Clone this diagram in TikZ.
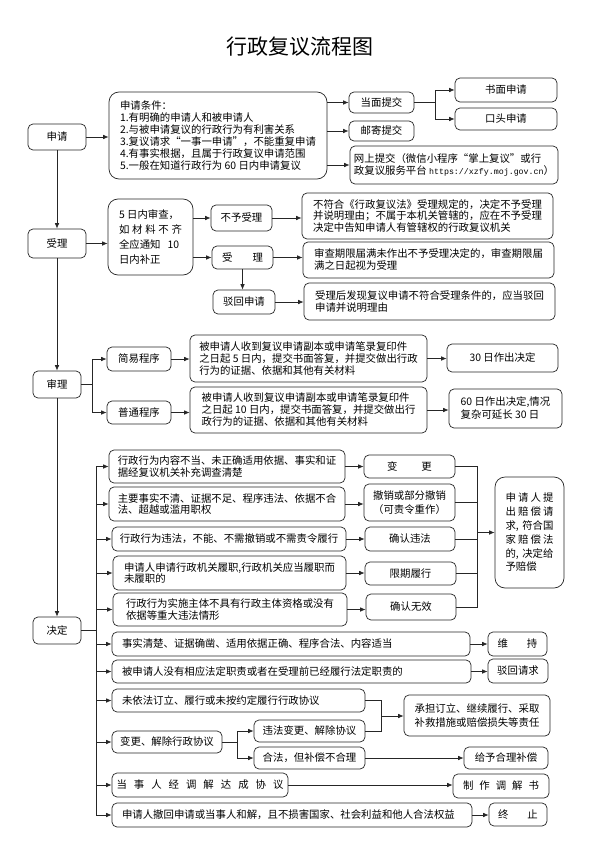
\documentclass[tikz,border=0pt]{standalone}
\usepackage{fontspec}
\setmainfont{Noto Sans CJK SC}
\setmonofont{Liberation Mono}
\usetikzlibrary{arrows.meta}
\newcommand\bx[7]{%
  \pgfmathsetmacro\bxw{#4-#2}%
  \pgfmathsetmacro\bxh{#5-#3}%
  \pgfmathsetmacro\bxcx{(#2+#4)/2}%
  \pgfmathsetmacro\bxcy{(#3+#5)/2}%
  \node[box,minimum width=\bxw pt,minimum height=\bxh pt,#6] (#1) at (\bxcx,\bxcy) {#7};}
\tikzset{
  box/.style={draw=black!85, line width=0.7pt, rounded corners=5pt, inner xsep=0pt, inner ysep=1pt,
    align=center, font=\fontsize{10.4}{12}\selectfont, text=black},
  big/.style={rounded corners=10pt},
  ln/.style={draw=black!85, line width=0.7pt},
  arr/.style={ln, -{Latex[length=5.5pt,width=4.5pt]}},
}
\begin{document}
\begin{tikzpicture}[x=1pt,y=-1pt]
\useasboundingbox (0,0) rectangle (597,845);
\fill[white] (0,0) rectangle (597,845);
\node[font=\fontsize{21}{21}\selectfont] (title) at (300,47) {行政复议流程图};
% ---- 申请
\bx{shen}{28}{124}{86}{150}{}{申请}
\bx{cond}{109}{92}{327}{179}{big,align=left}{申请条件：\\1.有明确的申请人和被申请人\\2.与被申请复议的行政行为有利害关系\\3.复议请求“一事一申请”，不能重复申请\\4.有事实根据，且属于行政复议申请范围\\5.一般在知道行政行为 60 日内申请复议}
\bx{dangmian}{349}{92}{414}{113}{}{当面提交}
\bx{youji}{349}{121}{414}{141}{}{邮寄提交}
\bx{wangshang}{350}{146}{558}{184}{align=left}{网上提交（微信小程序“掌上复议”或行\\政复议服务平台 {\ttfamily\fontsize{8.3}{12}\selectfont https://xzfy.moj.gov.cn}）}
\bx{shumian}{455}{78}{557}{102}{}{书面申请}
\bx{koutou}{455}{108}{557}{130}{}{口头申请}
% ---- 受理
\bx{shouli}{28}{229}{86}{258}{}{受理}
\bx{check5}{108}{199}{193}{275}{big,align=left,font=\fontsize{10.4}{15.3}\selectfont}{5 日内审查，\\\makebox[63pt][l]{如\hfill 材\hfill 料\hfill 不\hfill 齐}\\全应通知\hspace{7pt}10\\日内补正}
\bx{buyu}{211}{205}{272}{231}{}{不予受理}
\bx{shouli2}{212}{246}{273}{269}{}{受\hspace{20pt}理}
\bx{bohui}{213}{290}{275}{314}{}{驳回申请}
\bx{r1}{302}{193}{553}{239}{align=left,font=\fontsize{10.4}{11.6}\selectfont}{不符合《行政复议法》受理规定的，决定不予受理\\并说明理由；不属于本机关管辖的，应在不予受理\\决定中告知申请人有管辖权的行政复议机关}
\bx{r2}{303}{242}{554}{278}{align=left}{审查期限届满未作出不予受理决定的，审查期限届\\满之日起视为受理}
\bx{r3}{304}{283}{555}{320}{align=left}{受理后发现复议申请不符合受理条件的，应当驳回\\申请并说明理由}
% ---- 审理
\bx{shenli}{33}{371}{81}{398}{}{审理}
\bx{jianyi}{107}{347}{171}{371}{}{简易程序}
\bx{putong}{107}{401}{171}{424}{}{普通程序}
\bx{p1}{190}{335}{427}{382}{align=left}{被申请人收到复议申请副本或申请笔录复印件\\之日起 5 日内，提交书面答复，并提交做出行政\\行为的证据、依据和其他有关材料}
\bx{p2}{190}{387}{427}{433}{align=left}{被申请人收到复议申请副本或申请笔录复印件\\之日起 10 日内，提交书面答复，并提交做出行\\政行为的证据、依据和其他有关材料}
\bx{d30}{447}{344}{558}{372}{}{30 日作出决定}
\bx{d60}{449}{389}{562}{428}{align=left,font=\fontsize{10.4}{13}\selectfont}{60 日作出决定,情况\\复杂可延长 30 日}
% ---- 决定
\bx{jueding}{33}{617}{81}{644}{}{决定}
\bx{c1}{109}{450}{345}{483}{align=left,font=\fontsize{10.4}{11.6}\selectfont}{行政行为内容不当、未正确适用依据、事实和证\\据经复议机关补充调查清楚}
\bx{c2}{109}{487}{345}{521}{align=left,font=\fontsize{10.4}{11.6}\selectfont}{主要事实不清、证据不足、程序违法、依据不合\\法、超越或滥用职权}
\bx{c3}{112}{527}{346}{551}{}{行政行为违法，不能、不需撤销或不需责令履行}
\bx{c4}{113}{556}{346}{590}{align=left,font=\fontsize{10.4}{11.6}\selectfont}{申请人申请行政机关履职,行政机关应当履职而\\未履职的}
\bx{c5}{113}{593}{347}{626}{align=left,font=\fontsize{10.4}{11.6}\selectfont}{行政行为实施主体不具有行政主体资格或没有\\依据等重大违法情形}
\bx{e1}{364}{455}{455}{478}{}{变\hspace{24pt}更}
\bx{e2}{364}{484}{455}{521}{font=\fontsize{10.4}{13.5}\selectfont}{撤销或部分撤销\\（可责令重作）}
\bx{e3}{365}{527}{455}{551}{}{确认违法}
\bx{e4}{365}{562}{456}{585}{}{限期履行}
\bx{e5}{366}{594}{456}{620}{}{确认无效}
\bx{comp}{495}{477}{564}{588}{big,align=left,font=\fontsize{10.4}{13.8}\selectfont}{\makebox[48pt][l]{申\hfill 请\hfill 人\hfill 提}\\\makebox[48pt][l]{出\hfill 赔\hfill 偿\hfill 请}\\\makebox[48pt][l]{求,\hfill 符合国}\\\makebox[48pt][l]{家\hfill 赔\hfill 偿\hfill 法}\\\makebox[48pt][l]{的,\hfill 决定给}\\予赔偿}
\bx{f1}{112}{632}{470}{656}{align=left,text width=338pt}{事实清楚、证据确凿、适用依据正确、程序合法、内容适当}
\bx{g1}{488}{632}{547}{656}{}{维\hspace{19pt}持}
\bx{f2}{112}{660}{471}{683}{align=left,text width=339pt}{被申请人没有相应法定职责或者在受理前已经履行法定职责的}
\bx{g2}{488}{659}{548}{683}{}{驳回请求}
\bx{f3}{112}{689}{365}{712}{align=left,text width=233pt}{未依法订立、履行或未按约定履行行政协议}
\bx{f4}{112}{731}{222}{753}{}{变更、解除行政协议}
\bx{f4a}{254}{720}{365}{742}{}{违法变更、解除协议}
\bx{f4b}{254}{747}{365}{769}{}{合法，但补偿不合理}
\bx{g3}{404}{695}{550}{736}{align=left,font=\fontsize{10.4}{14}\selectfont}{承担订立、继续履行、采取\\补救措施或赔偿损失等责任}
\bx{g4}{464}{747}{548}{769}{}{给予合理补偿}
\bx{f5}{112}{773}{288}{797}{}{当\hspace{7pt}事\hspace{7pt}人\hspace{7pt}经\hspace{7pt}调\hspace{7pt}解\hspace{7pt}达\hspace{7pt}成\hspace{7pt}协\hspace{7pt}议}
\bx{g5}{453}{774}{549}{798}{}{制\hspace{6pt}作\hspace{6pt}调\hspace{6pt}解\hspace{6pt}书}
\bx{f6}{112}{803}{472}{827}{align=left,text width=340pt}{申请人撤回申请或当事人和解，且不损害国家、社会利益和他人合法权益}
\bx{g6}{489}{803}{547}{826}{}{终\hspace{19pt}止}
% ---- connectors
\draw[arr] (shen.east) -- (shen.east -| cond.west);
\draw[arr] (cond.east |- dangmian.west) -- (dangmian.west);
\draw[arr] (cond.east |- youji.west) -- (youji.west);
\draw[arr] (cond.east |- wangshang.west) -- (wangshang.west);
\draw[arr] (dangmian.east) -- ++(21,0) |- (shumian.west);
\draw[arr] (dangmian.east) -- ++(21,0) |- (koutou.west);
\draw[arr] (shen.south) -- (shouli.north);
\draw[arr] (shouli.east) -- (shouli.east -| check5.west);
\draw[arr] (check5.east |- buyu.west) -- (buyu.west);
\draw[arr] (check5.east |- shouli2.west) -- (shouli2.west);
\draw[arr] (shouli2.south) -- (shouli2.south |- bohui.north);
\draw[arr] (buyu.east) -- (buyu.east -| r1.west);
\draw[arr] (shouli2.east) -- (shouli2.east -| r2.west);
\draw[arr] (bohui.east) -- (bohui.east -| r3.west);
\draw[arr] (shouli.south) -- (shenli.north);
\draw[arr] (shenli.east) -- ++(11,0) |- (jianyi.west);
\draw[arr] (shenli.east) -- ++(11,0) |- (putong.west);
\draw[arr] (jianyi.east) -- (jianyi.east -| p1.west);
\draw[arr] (putong.east) -- (putong.east -| p2.west);
\draw[arr] (p1.east) -- (p1.east -| d30.west);
\draw[arr] (p2.east) -- (p2.east -| d60.west);
\draw[arr] (shenli.south) -- (jueding.north);
\foreach \t in {c1,c2,c3,c4,c5,f1,f2,f3,f4,f5,f6}
  \draw[arr] (jueding.east) -- ++(15,0) |- (\t.west);
\foreach \a/\b in {c1/e1,c2/e2,c3/e3,c4/e4,c5/e5,f1/g1,f2/g2,f4b/g4,f5/g5,f6/g6}
  \draw[arr] (\a.east) -- (\a.east -| \b.west);
\coordinate (cj) at (477,532.5);
\foreach \e in {e1,e2,e3,e4,e5}
  \draw[ln] (\e.east) -| (cj);
\draw[arr] (cj) -- (cj -| comp.west);
\draw[arr] (f4.east) -- ++(15,0) |- (f4a.west);
\draw[arr] (f4.east) -- ++(15,0) |- (f4b.west);
\coordinate (hj) at (381,716);
\draw[ln] (f3.east) -| (hj);
\draw[ln] (f4a.east) -| (hj);
\draw[arr] (hj) -- (hj -| g3.west);
\end{tikzpicture}
\end{document}
